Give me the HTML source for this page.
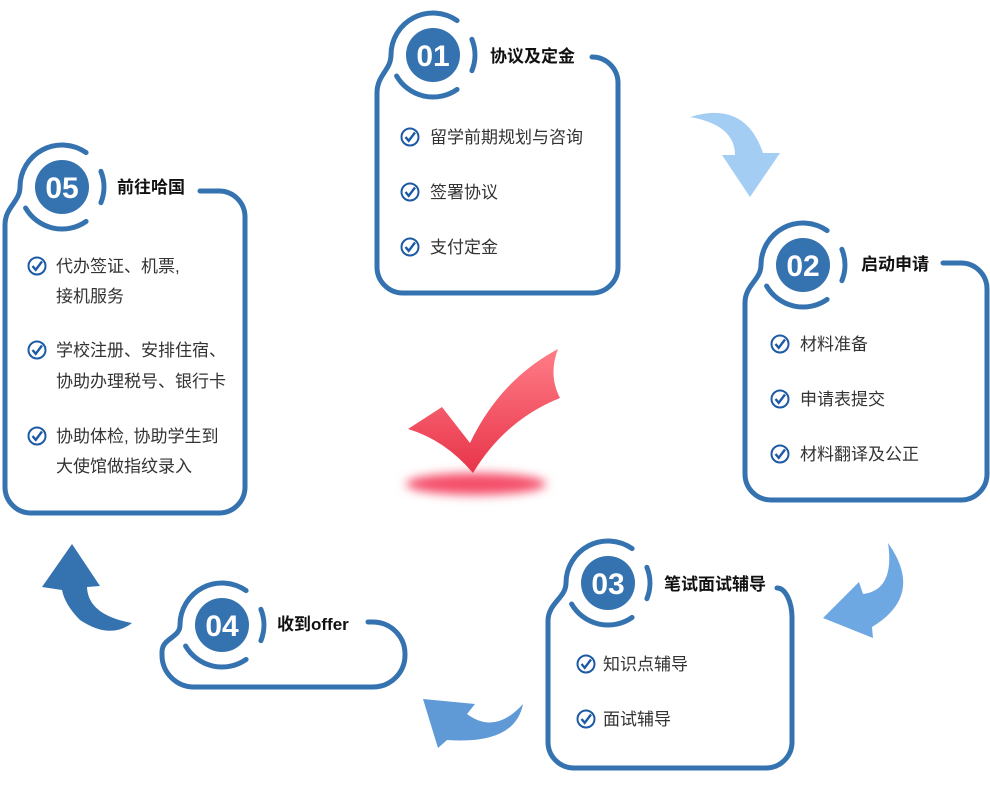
<!DOCTYPE html>
<html><head><meta charset="utf-8"><style>
html,body{margin:0;padding:0;background:#fff;}
svg{display:block;}
.t{font-family:"Liberation Sans","Noto Sans CJK SC",sans-serif;font-size:17px;fill:#333;}
.h{font-family:"Liberation Sans","Noto Sans CJK SC",sans-serif;font-size:17px;font-weight:bold;fill:#111;}
.n{font-family:"Liberation Sans",sans-serif;font-size:30px;font-weight:bold;fill:#fff;}
.b{fill:none;stroke:#3572b0;stroke-width:5;stroke-linecap:round;}
</style></head><body>
<svg width="990" height="802" viewBox="0 0 990 802" xmlns="http://www.w3.org/2000/svg">
<defs>
<linearGradient id="rg" x1="0" y1="0" x2="0" y2="1"><stop offset="0" stop-color="#ff7d87"/><stop offset="1" stop-color="#e8344a"/></linearGradient>
<filter id="bl" x="-50%" y="-100%" width="200%" height="300%"><feGaussianBlur stdDeviation="5"/></filter>
<g id="ck"><circle r="8.5" fill="none" stroke="#1d5aa6" stroke-width="2"/><path d="M-4.5,0 L-1.3,3.8 L5,-4.5" fill="none" stroke="#1d5aa6" stroke-width="2.4"/></g>
</defs>

<!-- arrows -->
<path d="M690,117 Q745,100 763,153 L780,153 L750,197 L722,155 L735,155 Q735,125 690,117 Z" fill="#a3cdf3"/>
<path d="M888,543 Q925,595 872,627 L873,638 L823,618 L859,582 L863,594 Q895,590 888,543 Z" fill="#6ea8e3"/>
<path d="M438,748 L423,699 L475,704 L467,714 Q495,735 523,704 Q515,745 447,740 Z" fill="#5f9ad6"/>
<path d="M72,544 L100,586 L87,587 Q88,615 132,623 Q110,640 80,620 Q65,605 62,590 L42,587 Z" fill="#3572b0"/>

<!-- red check -->
<ellipse cx="476" cy="484" rx="70" ry="11" fill="#f4506a" filter="url(#bl)"/>
<path d="M408,429 L442,407 L470,443 Q500,380 558,349 Q548,375 560,398 Q505,420 473,473 Q445,440 408,429 Z" fill="url(#rg)"/>

<!-- card 01 -->
<path class="b" d="M592,57 A26 26 0 0 1 618,83 V267 A26 26 0 0 1 592,293 H403 A26 26 0 0 1 377,267 V93 C377,75 391,70 391,55 A42 42 0 0 1 457.1,20.6"/>
<path class="b" d="M471.9,39.3 A42 42 0 0 1 471.9,70.7 M457.1,89.4 A42 42 0 0 1 396.6,76"/>
<circle cx="433" cy="55" r="27" fill="#3572b0"/>
<text class="n" x="433" y="66" text-anchor="middle">01</text>
<text class="h" x="490" y="62">协议及定金</text>
<use href="#ck" x="410" y="137"/><text class="t" x="430" y="143">留学前期规划与咨询</text>
<use href="#ck" x="410" y="192"/><text class="t" x="430" y="198">签署协议</text>
<use href="#ck" x="410" y="247"/><text class="t" x="430" y="253">支付定金</text>

<!-- card 02 -->
<path class="b" d="M943,263 H961 A26 26 0 0 1 987,289 V474 A26 26 0 0 1 961,500 H771 A26 26 0 0 1 745,474 V303 C745,285 761,280 761,265 A42 42 0 0 1 827.1,230.6"/>
<path class="b" d="M841.9,249.3 A42 42 0 0 1 841.9,280.7 M827.1,299.4 A42 42 0 0 1 766.6,286"/>
<circle cx="803" cy="265" r="27" fill="#3572b0"/>
<text class="n" x="803" y="276" text-anchor="middle">02</text>
<text class="h" x="861" y="270">启动申请</text>
<use href="#ck" x="780" y="344"/><text class="t" x="800" y="350">材料准备</text>
<use href="#ck" x="780" y="399"/><text class="t" x="800" y="405">申请表提交</text>
<use href="#ck" x="780" y="454"/><text class="t" x="800" y="460">材料翻译及公正</text>

<!-- card 03 -->
<path class="b" d="M777,588 A15 30 0 0 1 792,618 V742 A26 26 0 0 1 766,768 H574 A26 26 0 0 1 548,742 V621 C548,603 566,598 566,583 A42 42 0 0 1 632.1,548.6"/>
<path class="b" d="M646.9,567.3 A42 42 0 0 1 646.9,598.7 M632.1,617.4 A42 42 0 0 1 571.6,604"/>
<circle cx="608" cy="583" r="27" fill="#3572b0"/>
<text class="n" x="608" y="594" text-anchor="middle">03</text>
<text class="h" x="664" y="590">笔试面试辅导</text>
<use href="#ck" x="586" y="664"/><text class="t" x="603" y="670">知识点辅导</text>
<use href="#ck" x="586" y="719"/><text class="t" x="603" y="725">面试辅导</text>

<!-- card 04 -->
<path class="b" d="M368,622 H373 A32 32 0 0 1 405,654 V655 A32 32 0 0 1 373,687 H194 A32 32 0 0 1 162,655 V652 C162,638 180,638 180,625 A42 42 0 0 1 246.1,590.6"/>
<path class="b" d="M260.9,609.3 A42 42 0 0 1 260.9,640.7 M246.1,659.4 A42 42 0 0 1 185.6,646"/>
<circle cx="222" cy="625" r="27" fill="#3572b0"/>
<text class="n" x="222" y="636" text-anchor="middle">04</text>
<text class="h" x="277" y="630">收到offer</text>

<!-- card 05 -->
<path class="b" d="M200,191 H219 A26 26 0 0 1 245,217 V487 A26 26 0 0 1 219,513 H31 A26 26 0 0 1 5,487 V225 C5,207 20,202 20,187 A42 42 0 0 1 86.1,152.6"/>
<path class="b" d="M100.9,171.3 A42 42 0 0 1 100.9,202.7 M86.1,221.4 A42 42 0 0 1 25.6,208"/>
<circle cx="62" cy="187" r="27" fill="#3572b0"/>
<text class="n" x="62" y="198" text-anchor="middle">05</text>
<text class="h" x="117" y="193">前往哈国</text>
<use href="#ck" x="37" y="266"/><text class="t" x="56" y="272">代办签证、机票,</text>
<text class="t" x="56" y="302">接机服务</text>
<use href="#ck" x="37" y="350"/><text class="t" x="56" y="356">学校注册、安排住宿、</text>
<text class="t" x="56" y="387">协助办理税号、银行卡</text>
<use href="#ck" x="37" y="436"/><text class="t" x="56" y="442">协助体检, 协助学生到</text>
<text class="t" x="56" y="472">大使馆做指纹录入</text>
</svg>
</body></html>
